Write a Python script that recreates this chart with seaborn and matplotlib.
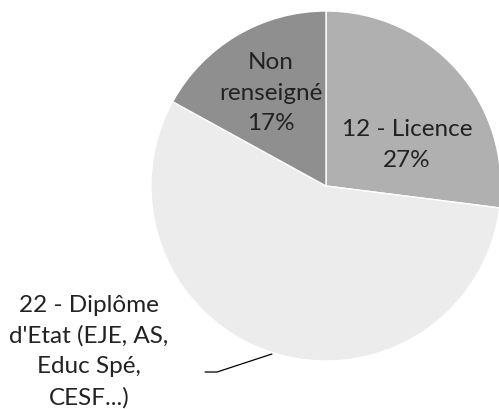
import numpy as np
import pandas as pd
import matplotlib.pyplot as plt
import seaborn as sns

# data (percent of respondents)
categories = ["12 - Licence", "22 - Diplôme\nd'Etat (EJE, AS,\nEduc Spé,\nCESF...)", "Non\nrenseigné"]
values = [27, 56, 17]
colors = ["#b0b0b0", "#ececec", "#8f8f8f"]

df = pd.DataFrame({"cat": categories, "val": values})

sns.set_theme(style="white")
plt.rcParams['font.family'] = ['Lato', 'DejaVu Sans']

fig = plt.figure(figsize=(4.99, 4.10), dpi=100)
# pie centre at (326, 187) px, radius 175 px
ax = fig.add_axes([(326 - 175) / 499, (410 - 187 - 175) / 410, 350 / 499, 350 / 410])

wedges, _ = ax.pie(df["val"], colors=colors, startangle=90, counterclock=False,
                   wedgeprops=dict(edgecolor="white", linewidth=1))
ax.set_xlim(-1, 1)
ax.set_ylim(-1, 1)
ax.set_aspect("equal")
ax.axis("off")

txt = "#222222"
fs = 17.5
ls = 1.55
# inner labels
ax.text(0.463, 0.24, f"{df['cat'][0]}\n{df['val'][0]}%", ha="center", va="center",
        fontsize=fs, color=txt, linespacing=ls)
ax.text(-0.314, 0.537, f"{df['cat'][2]}\n{df['val'][2]}%", ha="center", va="center",
        fontsize=fs, color=txt, linespacing=ls)

# outside label with leader line
ax.text(-1.354, -0.94, df["cat"][1], ha="center", va="center",
        fontsize=fs, color=txt, linespacing=ls)
ax.plot([-0.691, -0.623, -0.309], [-1.063, -1.063, -0.96], color="black", lw=0.9,
        clip_on=False)

fig.savefig("out.png", dpi=100)
